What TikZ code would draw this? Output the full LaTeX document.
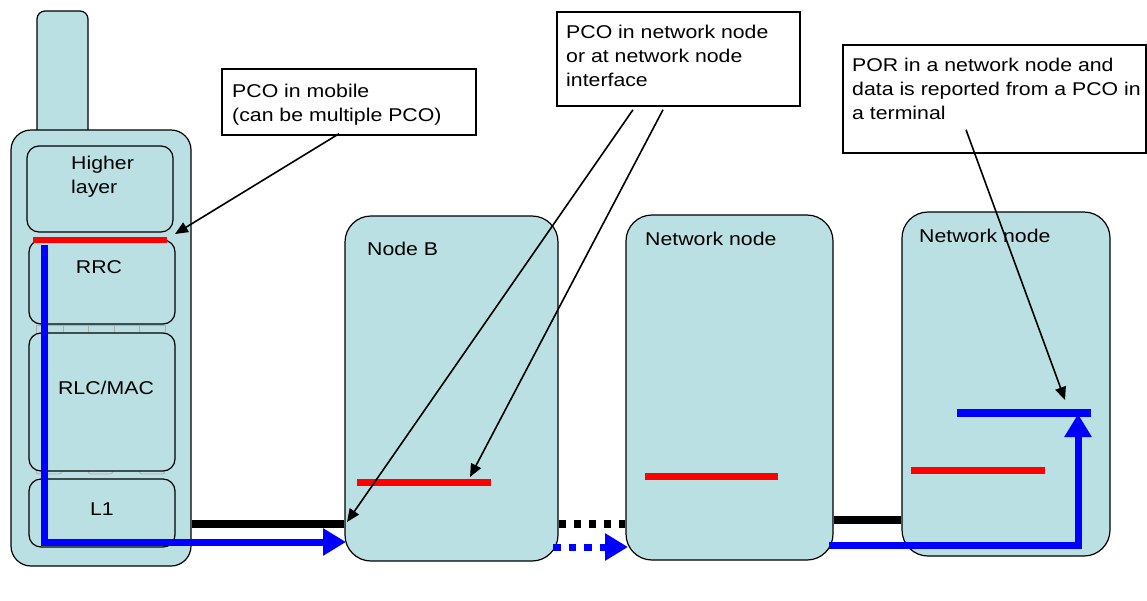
\documentclass[tikz,border=0pt]{standalone}
\usepackage{fontspec}
\setmainfont{Liberation Sans}[FakeStretch=1.15]
\usetikzlibrary{arrows.meta,calc}
\definecolor{boxfill}{RGB}{187,224,227}
\definecolor{pcored}{RGB}{255,0,0}
\definecolor{porblue}{RGB}{0,0,255}
\definecolor{sepgray}{RGB}{170,175,178}
\begin{document}
\begin{tikzpicture}[x=1pt,y=-1pt,
  lbl/.style={font=\fontsize{18.5}{24}\selectfont, inner sep=0pt, anchor=north west, align=left},
  clbl/.style={font=\fontsize{18.5}{24}\selectfont, inner sep=0pt, anchor=north},
  phonebox/.style={draw=black, line width=1.2pt, fill=boxfill, rounded corners=20pt, inner sep=0pt},
  layerbox/.style={draw=black, line width=1.2pt, fill=boxfill, rounded corners=12pt, inner sep=0pt},
  netbox/.style={draw=black, line width=1.2pt, fill=boxfill, rounded corners=26pt, inner sep=0pt},
  callout/.style={draw=black, line width=1.5pt, fill=white, inner sep=0pt},
  pointer/.style={draw=black, line width=1.6pt, -{Triangle[length=13pt,width=11pt]}},
  pcoline/.style={draw=pcored, line width=7pt},
  porline/.style={draw=porblue, line width=7pt},
  flowtip/.style={-{Triangle[length=23pt,width=26pt]}},
  linkline/.style={draw=black, line width=8pt},
  sep/.style={draw=sepgray, line width=0.8pt}
]
\useasboundingbox (0,0) rectangle (1147,600);

% ---- mobile ----
\node[phonebox, rounded corners=8pt, minimum width=51pt, minimum height=130pt] (antenna) at (62.5,76) {};
\node[phonebox, minimum width=180pt, minimum height=436pt] (phone) at (101,348) {};

% faint separators
\draw[sep] (36,325) rectangle (165,333);
\foreach \x in {63,88,114,139} \draw[sep] (\x,325) -- (\x,333);
\foreach \a/\b in {36/62,88/113,139/165}
  \draw[sep, rounded corners=3pt] (\a,462) rectangle (\b,474);

\node[layerbox, minimum width=146pt, minimum height=86pt] (higher) at (100,189) {};
\node[layerbox, minimum width=146pt, minimum height=84pt] (rrc) at (102,282) {};
\node[layerbox, minimum width=146pt, minimum height=138pt] (rlc) at (102,402) {};
\node[layerbox, minimum width=146pt, minimum height=68pt] (l1) at (102,513) {};

\node[lbl] (higherText) at (71,156) {Higher\\layer};
\node[clbl] (rrcText) at (99,260) {RRC};
\node[clbl] (rlcText) at (106,381) {RLC/MAC};
\node[clbl] (l1Text) at (102,503) {L1};

% ---- network side ----
\node[netbox, minimum width=213pt, minimum height=345pt] (nodeB) at (451.5,388.5) {};
\node[netbox, minimum width=207pt, minimum height=345pt] (nn1) at (729.5,387.5) {};
\node[netbox, minimum width=208pt, minimum height=344pt] (nn2) at (1006,384) {};

\node[lbl] (nodeBText) at (367,242) {Node B};
\node[lbl] (nn1Text) at (645,232) {Network node};
\node[lbl] (nn2Text) at (919,229) {Network node};

% ---- PCO / POR bars ----
\coordinate (redPhoneA) at (33,240);
\coordinate (redPhoneB) at (167,240);
\draw[pcoline, line width=6pt] (redPhoneA) -- (redPhoneB);
\coordinate (redBA) at (357,482);
\coordinate (redBB) at (491,482);
\draw[pcoline] (redBA) -- (redBB);
\coordinate (redN1A) at (645,476);
\coordinate (redN1B) at (778,476);
\draw[pcoline] (redN1A) -- (redN1B);
\coordinate (redN2A) at (911,470);
\coordinate (redN2B) at (1045,470);
\draw[pcoline] (redN2A) -- (redN2B);
\coordinate (porA) at (957,413);
\coordinate (porB) at (1091,413);
\draw[porline, line width=8pt] (porA) -- (porB);

% ---- links ----
\coordinate (yLinkA) at (0,524);
\coordinate (yLinkB) at (0,520);
\draw[linkline] (phone.east |- yLinkA) -- (nodeB.west |- yLinkA);
\draw[linkline, dash pattern=on 7.5pt off 7.5pt] (nodeB.east |- yLinkA) -- (nn1.west |- yLinkA);
\draw[linkline] (nn1.east |- yLinkB) -- (nn2.west |- yLinkB);

% ---- data flow (blue) ----
\coordinate (blueStart) at (44,245);
\coordinate (blueTipB) at (346,542);
\draw[porline, flowtip, miter limit=10] (blueStart) |- (blueTipB);
\coordinate (blueDotStart) at (553,547);
\coordinate (blueTipN1) at (628,547);
\draw[porline, flowtip, dash pattern=on 7.5pt off 8pt] (blueDotStart) -- (blueTipN1);
\coordinate (blueN1Start) at (829,545);
\coordinate (blueTipPor) at (1078,414);
\draw[porline, flowtip] (blueN1Start) -| (blueTipPor);

% ---- callouts ----
\node[callout, minimum width=254pt, minimum height=66pt] (pcoMobile) at (349,102) {};
\node[lbl] (pcoMobileText) at (232,84) {PCO in mobile\\(can be multiple PCO)};
\node[callout, minimum width=243pt, minimum height=94pt] (pcoNet) at (678.5,59) {};
\node[lbl] (pcoNetText) at (566,25) {PCO in network node\\or at network node\\interface};
\node[callout, minimum width=303pt, minimum height=108pt] (por) at (994.5,99) {};
\node[lbl] (porText) at (852,58) {POR in a network node and\\data is reported from a PCO in\\a terminal};

\coordinate (tipMobile) at (175,234);
\coordinate (tipB1) at (347,522);
\coordinate (tipB2) at (470,477);
\coordinate (tipPor) at (1065,400);
\draw[pointer] ($(pcoMobile.south)+(-10,-2)$) -- (tipMobile);
\draw[pointer] ($(pcoNet.south)+(-45.5,3)$) -- (tipB1);
\draw[pointer] ($(pcoNet.south)+(-15.5,3)$) -- (tipB2);
\draw[pointer] ($(por.south)+(-28.5,-24)$) -- (tipPor);
\end{tikzpicture}
\end{document}
